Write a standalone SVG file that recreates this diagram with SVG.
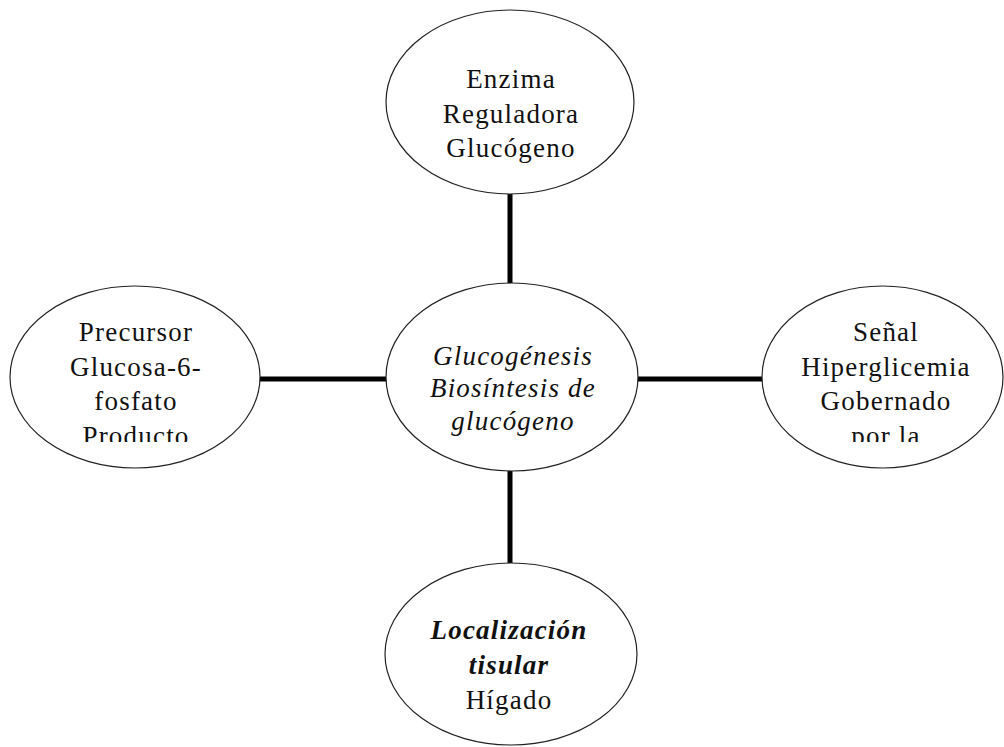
<svg xmlns="http://www.w3.org/2000/svg" width="1004" height="747" viewBox="0 0 1004 747">
<style>
.node ellipse{fill:#fff;stroke:#222;stroke-width:1.2}
.t{font-family:"Liberation Serif","Times New Roman",serif;font-size:27px;letter-spacing:1.2px;fill:#111;text-anchor:middle}
.i{font-style:italic}
.bi{font-style:italic;font-weight:bold}
.conn line{stroke:#000;stroke-width:5}
</style>
<defs>
<clipPath id="clipL"><rect x="0" y="280" width="300" height="162"/></clipPath>
<clipPath id="clipR"><rect x="700" y="280" width="304" height="162"/></clipPath>
</defs>
<rect width="1004" height="747" fill="#fff"/>
<g id="connectors" class="conn">
<line x1="510" y1="194" x2="510" y2="284"/>
<line x1="260" y1="379" x2="387" y2="379"/>
<line x1="637" y1="379" x2="763" y2="379"/>
<line x1="510" y1="470" x2="510" y2="564"/>
</g>
<g id="enzima" class="node">
<ellipse cx="510" cy="102" rx="124" ry="92"/>
<text class="t" x="511" y="88">Enzima</text>
<text class="t" x="511" y="123">Reguladora</text>
<text class="t" x="511" y="157">Glucógeno</text>
</g>
<g id="precursor" class="node">
<ellipse cx="135" cy="377" rx="125" ry="91"/>
<g clip-path="url(#clipL)">
<text class="t" x="136" y="341">Precursor</text>
<text class="t" x="136" y="376">Glucosa-6-</text>
<text class="t" x="136" y="410">fosfato</text>
<text class="t" x="136" y="445">Producto</text>
</g>
</g>
<g id="centro" class="node">
<ellipse cx="512" cy="377" rx="126" ry="94"/>
<text class="t i" x="513" y="365">Glucogénesis</text>
<text class="t i" x="513" y="397">Biosíntesis de</text>
<text class="t i" x="513" y="430">glucógeno</text>
</g>
<g id="senal" class="node">
<ellipse cx="882.5" cy="377" rx="120.5" ry="91"/>
<g clip-path="url(#clipR)">
<text class="t" x="886" y="341">Señal</text>
<text class="t" x="886" y="376">Hiperglicemia</text>
<text class="t" x="886" y="410">Gobernado</text>
<text class="t" x="886" y="445">por la</text>
</g>
</g>
<g id="localizacion" class="node">
<ellipse cx="511" cy="654" rx="126" ry="91"/>
<text class="t bi" x="509" y="639">Localización</text>
<text class="t bi" x="509" y="674">tisular</text>
<text class="t" x="509" y="709">Hígado</text>
</g>
</svg>
